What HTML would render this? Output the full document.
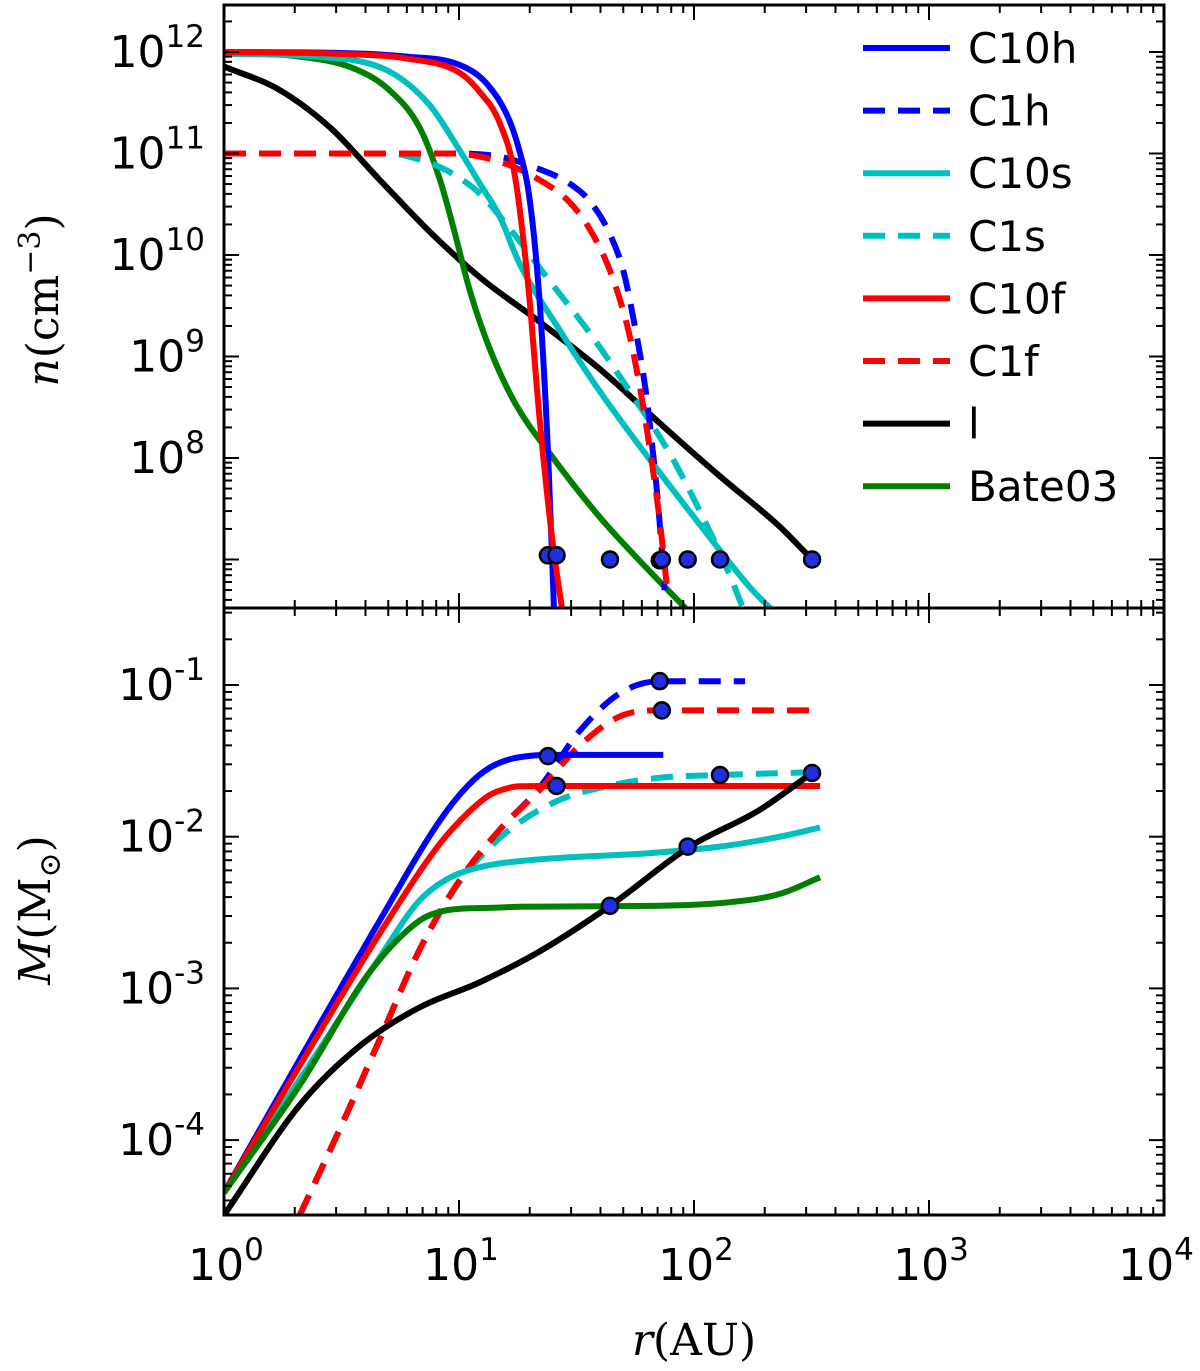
<!DOCTYPE html>
<html><head><meta charset="utf-8"><style>
html,body{margin:0;padding:0;background:#fff;}
svg{display:block;font-family:"DejaVu Sans","Liberation Sans",sans-serif;}
</style></head><body>
<svg id="fig" width="1200" height="1371" viewBox="0 0 1200 1371"></svg>
<script>
// ---- data (r in AU) ----
const topR_C10h=[1,3,6,10,13,16,18,20,22,23.9,25.4];
const topN_C10h=[1e12,9.8e11,9e11,7.5e11,5e11,2.4e11,1.1e11,3.5e10,3.6e9,1.2e8,3e6];
const topR_C10f=[1,3,6,10,12.3,14.9,17.3,19.7,22,25,27.6];
const topN_C10f=[1e12,9.6e11,8.6e11,6.3e11,4e11,2e11,6e10,5e9,2.5e8,1.5e7,3e6];
const topR_C10s=[1,2.5,5,7.5,10,12.3,14.9,18.2,26.9,39.8,65,106,172,220];
const topN_C10s=[9.6e11,9e11,6.5e11,3e11,1.1e11,5e10,2.4e10,8e9,1.8e9,4.5e8,9.6e7,2.2e7,5.4e6,3e6];
const topR_Bate=[1,2.1,3.5,5,6.8,8.3,9.5,11.1,13.5,17.3,24.4,39.8,65,96];
const topN_Bate=[1e12,9e11,7e11,4.3e11,1.8e11,5.5e10,1.8e10,4.5e9,1.2e9,3.5e8,1.1e8,2.6e7,7.6e6,3e6];
const topR_l=[1,1.7,2.83,4.6,7.5,12.3,22,39.8,71.5,129,232,318];
const topN_l=[7.2e11,4.3e11,1.8e11,5.5e10,1.7e10,6e9,2.2e9,7.5e8,2.2e8,6.6e7,2.1e7,1e7];
const topR_C1h=[1,9.2,14.9,22,29,36,43.9,50,56,62,66,70,73,75];
const topN_C1h=[1e11,1e11,9.3e10,7e10,5.2e10,3.4e10,1.6e10,7e9,2e9,5e8,1.5e8,4e7,1.2e7,5e6];
const topR_C1f=[1,9.2,14.9,22,29.6,36,43.9,52,58,65,71.5,77.5];
const topN_C1f=[1e11,1e11,8.3e10,5.5e10,3.3e10,1.8e10,7e9,2e9,6e8,1.2e8,2.4e7,4.3e6];
const topR_C1s=[1,5,7,9.2,12.3,16.5,24.4,36,53.4,79,106,142,160];
const topN_C1s=[1e11,1e11,8.5e10,6.5e10,4e10,1.8e10,5.5e9,1.7e9,4.5e8,1.1e8,3e7,7e6,3.5e6];
const topDotR=[23.9,26,43.9,71.5,73,94,129,318];
const topDotN=[1.1e7,1.1e7,1e7,9.8e6,1e7,1e7,1e7,1e7];

const botR_C10h=[1,2.1,4.6,8.3,11,13.5,16,18.2,24.4,74];
const botM_C10h=[4.5e-5,3.4e-4,2.8e-3,0.0128,0.022,0.0285,0.032,0.0335,0.0346,0.0346];
const botR_C10f=[1,2.1,4.6,8.3,11,13.5,16,18.2,25,344];
const botM_C10f=[4.5e-5,3.1e-4,2.3e-3,9e-3,0.0145,0.0188,0.0208,0.0215,0.0216,0.0216];
const botR_C10s=[1,2.1,4.6,6.8,9,12.3,20,65,129,232,344];
const botM_C10s=[4.5e-5,2.5e-4,1.6e-3,3.8e-3,5.3e-3,6.3e-3,7e-3,7.8e-3,8.6e-3,1.0e-2,0.0115];
const botR_Bate=[1,2.1,4.2,6.8,8.3,10.1,14,18.2,65,142,232,344];
const botM_Bate=[4.5e-5,2.3e-4,1.3e-3,2.8e-3,3.2e-3,3.35e-3,3.4e-3,3.45e-3,3.5e-3,3.7e-3,4.2e-3,5.4e-3];
const botR_l=[1,2.1,3.8,6.8,12.3,22,43.9,96,190,318];
const botM_l=[3.2e-5,1.7e-4,4.2e-4,7.5e-4,1.1e-3,1.75e-3,3.5e-3,8.6e-3,0.015,0.0263];
const botR_C1f=[2.1,3.1,4.6,6.8,10.1,14.9,22,32.7,48.3,71.5,344];
const botM_C1f=[3.2e-5,1.17e-4,4.6e-4,1.8e-3,5.2e-3,0.0111,0.0203,0.04,0.062,0.068,0.068];
const botR_C1h=[2.1,3.1,4.6,6.8,10.1,14.9,22,32.7,48.3,71.5,165];
const botM_C1h=[3.2e-5,1.17e-4,4.6e-4,1.8e-3,5.2e-3,0.0111,0.021,0.05,0.088,0.106,0.106];
const botR_C1s=[2.1,3.1,4.6,6.8,10.1,13.5,18.2,26.9,39.8,71.5,129,344];
const botM_C1s=[3.2e-5,1.17e-4,4.6e-4,1.8e-3,5.1e-3,0.0085,0.0125,0.0175,0.021,0.0245,0.0255,0.0267];
const botDotR=[23.9,26,43.9,71.5,73,94,129,318];
const botDotM=[0.034,0.0216,0.0035,0.106,0.068,0.0086,0.0255,0.0263];

const xTicks=[0,1,2,3,4];
const topTicks=[12,11,10,9,8];
const botTicks=[-1,-2,-3,-4];

// ---- axes ----
const L=224,R=1164,T=5,MID=608,B=1215;
const xs=r=>L+Math.log10(r)*(R-L)/4;
const yTop=n=>52+(12-Math.log10(n))*101.5;
const yBot=m=>685+(-1-Math.log10(m))*151.7;
const svg=document.getElementById('fig');
const NS='http://www.w3.org/2000/svg';
function mk(tag,attrs,parent){const e=document.createElementNS(NS,tag);for(const k in attrs)e.setAttribute(k,attrs[k]);(parent||svg).appendChild(e);return e;}

const defs=mk('defs',{});
const cp1=mk('clipPath',{id:'c1'},defs);mk('rect',{x:L,y:T,width:R-L,height:MID-T},cp1);
const cp2=mk('clipPath',{id:'c2'},defs);mk('rect',{x:L,y:MID,width:R-L,height:B-MID},cp2);
const gTop=mk('g',{'clip-path':'url(#c1)'});


const gBot=mk('g',{'clip-path':'url(#c2)'});



// monotone cubic path through screen points
function smoothPath(P){
  const n=P.length;if(n<3)return P.map((p,i)=>(i?'L':'M')+p[0]+','+p[1]).join(' ');
  const d=[],m=[];
  for(let i=0;i<n-1;i++)d.push((P[i+1][1]-P[i][1])/(P[i+1][0]-P[i][0]));
  m[0]=d[0];m[n-1]=d[n-2];
  for(let i=1;i<n-1;i++){m[i]=(d[i-1]*d[i]<=0)?0:(d[i-1]+d[i])/2;}
  for(let i=0;i<n-1;i++){if(d[i]===0){m[i]=0;m[i+1]=0;continue;}
    const a=m[i]/d[i],b=m[i+1]/d[i],s=a*a+b*b;if(s>9){const t=3/Math.sqrt(s);m[i]=t*a*d[i];m[i+1]=t*b*d[i];}}
  let s='M'+P[0][0].toFixed(1)+','+P[0][1].toFixed(1);
  for(let i=0;i<n-1;i++){const h=(P[i+1][0]-P[i][0])/3;
    s+=' C'+(P[i][0]+h).toFixed(1)+','+(P[i][1]+m[i]*h).toFixed(1)+' '+(P[i+1][0]-h).toFixed(1)+','+(P[i+1][1]-m[i+1]*h).toFixed(1)+' '+P[i+1][0].toFixed(1)+','+P[i+1][1].toFixed(1);}
  return s;
}
function line(g,rs,vs,yf,color,dashed,name){
  const P=rs.map((r,i)=>[xs(r),yf(vs[i])]);
  const p=mk('path',{d:smoothPath(P),fill:'none',stroke:color,'stroke-width':6,'stroke-linejoin':'round'},g);
  if(dashed)p.setAttribute('stroke-dasharray','22,13');
  
  
}
const BLUE='#0000ff',RED='#ff0000',CY='#00bfbf',GR='#007f00',BK='#000';
line(gTop,topR_l,topN_l,yTop,BK,false,'density-line-l');
line(gTop,topR_Bate,topN_Bate,yTop,GR,false,'density-line-bate03');
line(gTop,topR_C10s,topN_C10s,yTop,CY,false,'density-line-c10s');
line(gTop,topR_C1s,topN_C1s,yTop,CY,true,'density-line-c1s');
line(gTop,topR_C1h,topN_C1h,yTop,BLUE,true,'density-line-c1h');
line(gTop,topR_C1f,topN_C1f,yTop,RED,true,'density-line-c1f');
line(gTop,topR_C10h,topN_C10h,yTop,BLUE,false,'density-line-c10h');
line(gTop,topR_C10f,topN_C10f,yTop,RED,false,'density-line-c10f');

line(gBot,botR_C1s,botM_C1s,yBot,CY,true,'mass-line-c1s');
line(gBot,botR_C1h,botM_C1h,yBot,BLUE,true,'mass-line-c1h');
line(gBot,botR_C1f,botM_C1f,yBot,RED,true,'mass-line-c1f');
line(gBot,botR_C10s,botM_C10s,yBot,CY,false,'mass-line-c10s');
line(gBot,botR_C10h,botM_C10h,yBot,BLUE,false,'mass-line-c10h');
line(gBot,botR_C10f,botM_C10f,yBot,RED,false,'mass-line-c10f');
line(gBot,botR_Bate,botM_Bate,yBot,GR,false,'mass-line-bate03');
line(gBot,botR_l,botM_l,yBot,BK,false,'mass-line-l');

topDotR.forEach((r,i)=>{const c=mk('circle',{cx:xs(r),cy:yTop(topDotN[i]),r:8,fill:'#2030e0',stroke:'#000','stroke-width':2.5},gTop);

});
botDotR.forEach((r,i)=>{const c=mk('circle',{cx:xs(r),cy:yBot(botDotM[i]),r:8,fill:'#2030e0',stroke:'#000','stroke-width':2.5},gBot);

});

// frames
const f1=mk('rect',{x:L,y:T,width:R-L,height:MID-T,fill:'none',stroke:'#000','stroke-width':3});


const f2=mk('rect',{x:L,y:MID,width:R-L,height:B-MID,fill:'none',stroke:'#000','stroke-width':3});



// ticks
function tk(x1,y1,x2,y2){mk('line',{x1:x1,y1:y1,x2:x2,y2:y2,stroke:'#000','stroke-width':2});}
for(let d=0;d<4;d++){for(let k=1;k<10;k++){const x=L+(d+Math.log10(k))*(R-L)/4;const len=k==1?15:8;
  [T,MID].forEach(y=>tk(x,y,x,y+len));[MID,B].forEach(y=>tk(x,y,x,y-len));}}
for(let e=6;e<=12;e++){for(let k=1;k<10;k++){const y=yTop(k*Math.pow(10,e));if(y<T||y>MID)continue;const len=k==1?15:8;tk(L,y,L+len,y);tk(R,y,R-len,y);}}
for(let e=-5;e<=-1;e++){for(let k=1;k<10;k++){const y=yBot(k*Math.pow(10,e));if(y<MID||y>B)continue;const len=k==1?15:8;tk(L,y,L+len,y);tk(R,y,R-len,y);}}

function powLabel(x,y,base,exp,anchor,name){
  const t=mk('text',{x:x,y:y,'font-size':44,'text-anchor':anchor});
  
  
  const a=mk('tspan',{},t);a.textContent=base;
  const b=mk('tspan',{dy:-20,'font-size':31},t);b.textContent=exp;
}
xTicks.forEach(e=>powLabel(xs(Math.pow(10,e))+(e==4?-8:2),1280,'10',String(e),'middle','x-tick-label'));
topTicks.forEach(e=>powLabel(205,yTop(Math.pow(10,e))+15,'10',String(e),'end','density-y-tick-label'));
botTicks.forEach(e=>powLabel(205,yBot(Math.pow(10,e))+15,'10',String(e),'end','mass-y-tick-label'));

// axis titles
const yl1=mk('text',{transform:'translate(58,300) rotate(-90)','text-anchor':'middle','font-size':44,'font-family':'"DejaVu Serif","Liberation Serif",serif'});

mk('tspan',{'font-style':'italic'},yl1).textContent='n';
mk('tspan',{},yl1).textContent='(cm';
mk('tspan',{dy:-18,'font-size':30},yl1).textContent='−3';
mk('tspan',{dy:18},yl1).textContent=')';
const yl2=mk('text',{transform:'translate(50,910) rotate(-90)','text-anchor':'middle','font-size':44,'font-family':'"DejaVu Serif","Liberation Serif",serif'});

mk('tspan',{'font-style':'italic'},yl2).textContent='M';
mk('tspan',{},yl2).textContent='(M';
mk('tspan',{dy:10,'font-size':30},yl2).textContent='⊙';
mk('tspan',{dy:-10},yl2).textContent=')';
const xl=mk('text',{x:694,y:1355,'text-anchor':'middle','font-size':44,'font-family':'"DejaVu Serif","Liberation Serif",serif'});

mk('tspan',{'font-style':'italic'},xl).textContent='r';
mk('tspan',{},xl).textContent='(AU)';

// legend
const legNames=['C10h','C1h','C10s','C1s','C10f','C1f','l','Bate03'];
const legCols=[BLUE,BLUE,CY,CY,RED,RED,BK,GR];
const legDash=[false,true,false,true,false,true,false,false];
const lg=mk('g',{});


legNames.forEach((n,i)=>{const y=48+i*62.6;
  const l=mk('line',{x1:863,y1:y,x2:950,y2:y,stroke:legCols[i],'stroke-width':6},lg);
  if(legDash[i])l.setAttribute('stroke-dasharray','22,13');
  
  const t=mk('text',{x:968,y:y+15,'font-size':42},lg);t.textContent=n;
  });
</script>
</body></html>
